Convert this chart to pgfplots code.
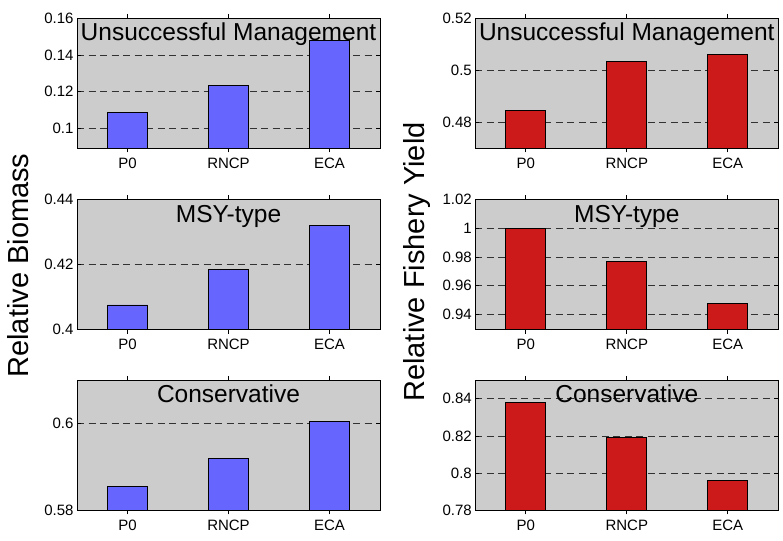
\documentclass[border=0pt]{standalone}
\usepackage{pgfplots}
\pgfplotsset{compat=1.18}
\usepackage{fontspec}
\setmainfont{Liberation Sans}

\definecolor{barblue}{RGB}{102,102,255}
\definecolor{barred}{RGB}{204,26,26}
\definecolor{panelgray}{RGB}{204,204,204}
\definecolor{gridgray}{RGB}{50,50,50}

\pgfplotsset{
  panel/.style={
    scale only axis, width=303pt, height=130.5pt,
    anchor=north west,
    axis background/.style={fill=panelgray},
    xmin=0.5, xmax=3.5, xtick={1,2,3}, xticklabels={P0,RNCP,ECA},
    tick align=inside, major tick length=4pt,
    xtick pos=both, ytick pos=both,
    scaled y ticks=false,
    ymajorgrids,
    major grid style={gridgray, line width=0.7pt, dash pattern=on 7pt off 4.5pt},
    axis line style={line width=0.8pt},
    tick style={black, line width=0.7pt},
    ticklabel style={font=\fontsize{15}{17}\selectfont},
    xticklabel style={yshift=-2pt},
    /pgf/number format/assume math mode=true,
    ybar, bar width=40pt, bar shift=0pt,
  },
  bluebars/.style={fill=barblue, draw=black, line width=0.8pt},
  redbars/.style={fill=barred, draw=black, line width=0.8pt},
}
% panel heading, set inside the top of each axis
\newcommand{\panelname}[1]{%
  \node[anchor=base, inner sep=0pt, font=\fontsize{24.5}{27}\selectfont]
    at (rel axis cs:0.5,1) [yshift=-23pt] {#1};}

\begin{document}
\begin{tikzpicture}
\useasboundingbox (0,0) rectangle (783pt,540pt);

% ---------- Relative biomass ----------
\begin{axis}[panel, at={(77pt,522pt)}, ymin=0.0892, ymax=0.16,
  ytick={0.1,0.12,0.14,0.16}]
  \addplot[bluebars] coordinates {(1,0.1086) (2,0.1236) (3,0.1476)};
  \panelname{Unsuccessful Management}
\end{axis}

\begin{axis}[panel, at={(77pt,340.7pt)}, ymin=0.4, ymax=0.44,
  ytick={0.4,0.42,0.44}]
  \addplot[bluebars] coordinates {(1,0.4076) (2,0.4186) (3,0.4321)};
  \panelname{MSY-type}
\end{axis}

\begin{axis}[panel, at={(77pt,160pt)}, ymin=0.58, ymax=0.61,
  ytick={0.58,0.6}]
  \addplot[bluebars] coordinates {(1,0.5855) (2,0.5919) (3,0.6005)};
  \panelname{Conservative}
\end{axis}

% ---------- Relative fishery yield ----------
\begin{axis}[panel, at={(475.3pt,522pt)}, ymin=0.47, ymax=0.52,
  ytick={0.48,0.5,0.52}]
  \addplot[redbars] coordinates {(1,0.4845) (2,0.5033) (3,0.5060)};
  \panelname{Unsuccessful Management}
\end{axis}

\begin{axis}[panel, at={(475.3pt,340.7pt)}, ymin=0.9294, ymax=1.02,
  ytick={0.94,0.96,0.98,1,1.02}]
  \addplot[redbars] coordinates {(1,1.0) (2,0.977) (3,0.9479)};
  \panelname{MSY-type}
\end{axis}

\begin{axis}[panel, at={(475.3pt,160pt)}, ymin=0.78, ymax=0.85,
  ytick={0.78,0.8,0.82,0.84}]
  \addplot[redbars] coordinates {(1,0.8381) (2,0.8193) (3,0.7962)};
  \panelname{Conservative}
\end{axis}

% shared axis titles
\node[rotate=90, font=\fontsize{29}{32}\selectfont] at (18pt,274.5pt) {Relative Biomass};
\node[rotate=90, font=\fontsize{29}{32}\selectfont] at (417pt,278pt) {Relative Fishery Yield};
\end{tikzpicture}
\end{document}
